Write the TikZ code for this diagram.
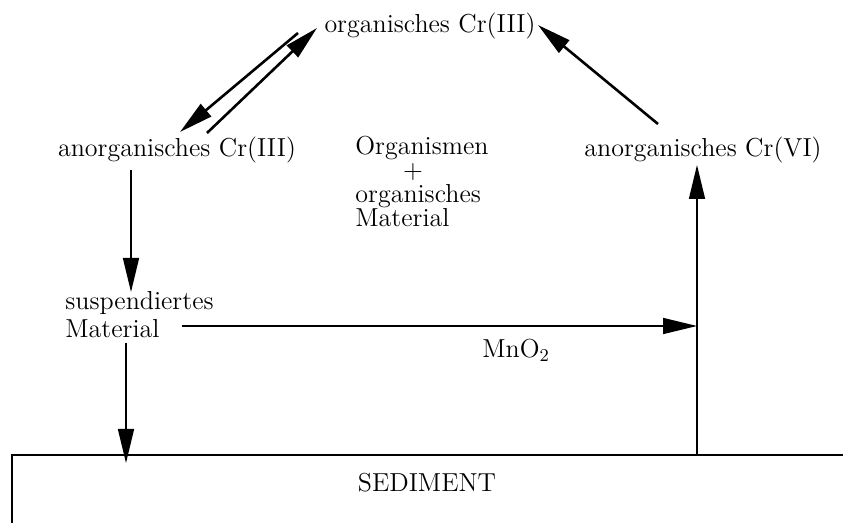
\documentclass[tikz,border=0pt]{standalone}
\usetikzlibrary{arrows.meta}
\begin{document}
\begin{tikzpicture}[x=0.5pt,y=-0.5pt,
  lbl/.style={inner sep=0pt, font=\fontsize{13}{15}\selectfont},
  flow/.style={line width=0.8pt, -{Triangle[length=17pt,width=8pt]}},
  dflow/.style={line width=1.3pt, -{Triangle[length=17pt,width=8pt]}},
  wall/.style={line width=0.8pt}]
\useasboundingbox (0,0) rectangle (843,523);
% labels
\node[lbl, anchor=base] (org) at (430,33) {organisches Cr(III)};
\node[lbl, anchor=base] (an3) at (177,157) {anorganisches Cr(III)};
\node[lbl, anchor=base] (an6) at (703,157) {anorganisches Cr(VI)};
\node[lbl, anchor=base west] (om1) at (355,155) {Organismen};
\node[lbl, anchor=base] (plus) at (413,179) {+};
\node[lbl, anchor=base west] (om2) at (355,203) {organisches};
\node[lbl, anchor=base west] (om3) at (355,227) {Material};
\node[lbl, anchor=base west] (sus1) at (65,310) {suspendiertes};
\node[lbl, anchor=base west] (sus2) at (65,338) {Material};
\node[lbl, anchor=base west] (mno) at (482,358) {MnO$_2$};
\node[lbl, anchor=base] (sed) at (427,492) {SEDIMENT};
% connector end points
\coordinate (a1) at (298,33);  \coordinate (a2) at (180,132);
\coordinate (b1) at (207,133); \coordinate (b2) at (317,28);
\coordinate (c1) at (658,124); \coordinate (c2) at (538,25);
\coordinate (d1) at (131,170); \coordinate (d2) at (131,292);
\coordinate (e1) at (126,343); \coordinate (e2) at (126,463);
\coordinate (f1) at (182,326); \coordinate (f2) at (697,326);
\coordinate (g1) at (697,455); \coordinate (g2) at (697,165);
\coordinate (s1) at (12,523);  \coordinate (s2) at (12,455); \coordinate (s3) at (843,455);
% arrows
\draw[dflow] (a1) -- (a2);
\draw[dflow] (b1) -- (b2);
\draw[dflow] (c1) -- (c2);
\draw[flow] (d1) -- (d2);
\draw[flow] (e1) -- (e2);
\draw[flow] (f1) -- (f2);
\draw[flow] (g1) -- (g2);
% sediment
\draw[wall] (s1) -- (s2) -- (s3);
\end{tikzpicture}
\end{document}
